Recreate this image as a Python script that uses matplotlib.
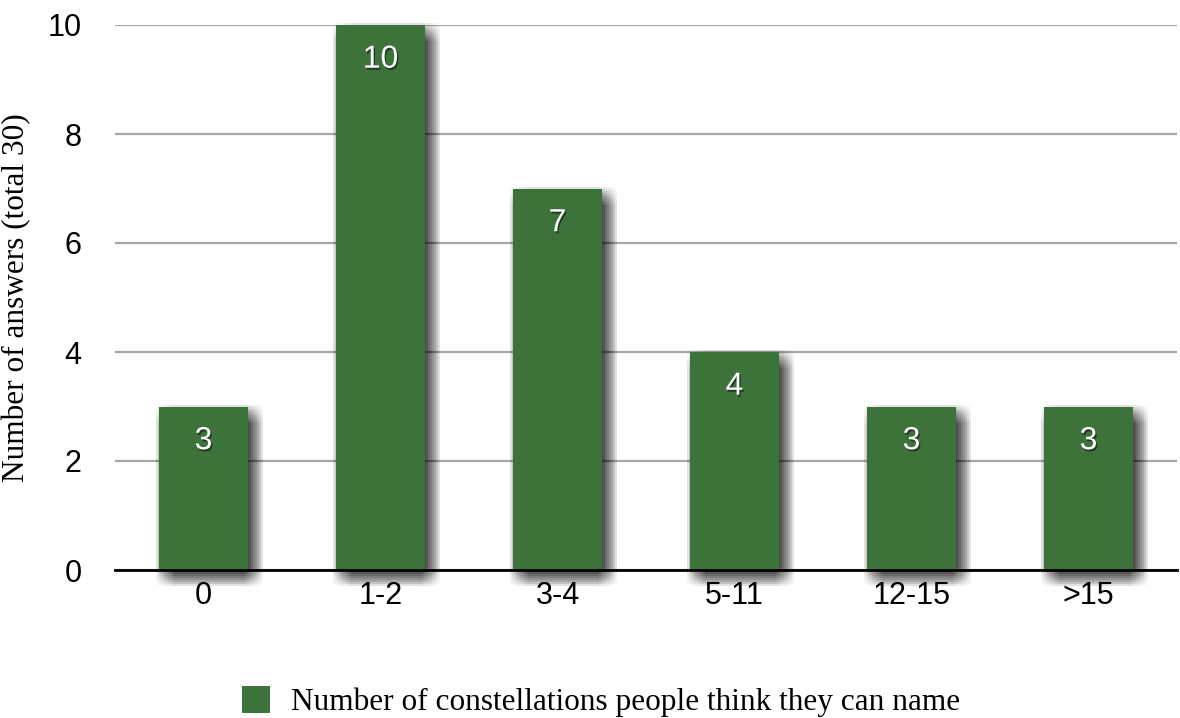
import matplotlib
matplotlib.use("Agg")
import matplotlib.pyplot as plt
import matplotlib.patheffects as pe
from matplotlib.patches import Patch

categories = ["0", "1-2", "3-4", "5-11", "12-15", ">15"]
values = [3, 10, 7, 4, 3, 3]
yticks = [0, 2, 4, 6, 8, 10]
series_name = "Number of constellations people think they can name"
ylabel = "Number of answers (total 30)"

bar_color = "#3d733a"
grid_color = "#a6a6a6"

W, H = 1180, 718
fig = plt.figure(figsize=(W / 100, H / 100), dpi=100)
ax = fig.add_axes([115 / W, (H - 570) / H, (1177 - 115) / W, (570 - 25) / H])

x = list(range(len(categories)))

# soft drop shadow made of many faint offset copies (approximate blur)
shadow = []
for dx in range(-3, 16, 2):
    for dy in range(-16, 3, 2):
        shadow.append(pe.SimplePatchShadow(offset=(dx * 0.72, dy * 0.72),
                                           shadow_rgbFace="black", alpha=0.011))
bars = ax.bar(x, values, width=0.5, color=bar_color, zorder=3, clip_on=False,
              path_effects=shadow + [pe.Normal()])

for xi, v in zip(x, values):
    ax.annotate(str(v), (xi, v), xytext=(0, -25), textcoords="offset points",
                ha="center", va="center", color="white", fontsize=23,
                family="Liberation Sans", zorder=6,
                path_effects=[pe.withSimplePatchShadow(offset=(1, -1.5),
                                                       shadow_rgbFace="black", alpha=0.45)])

ax.set_xlim(-0.5, len(categories) - 0.5)
ax.set_ylim(0, 10)
ax.set_yticks(yticks)
ax.set_xticks(x)
ax.set_xticklabels(categories)
ax.yaxis.grid(True, color=grid_color, linewidth=1.6, zorder=0)
ax.set_axisbelow(True)
for s in ["left", "right", "top"]:
    ax.spines[s].set_visible(False)
ax.spines["bottom"].set_linewidth(2)
ax.spines["bottom"].set_color("black")
ax.spines["bottom"].set_zorder(5)
ax.tick_params(axis="both", length=0, labelsize=22)
ax.tick_params(axis="y", pad=24)
ax.tick_params(axis="x", pad=8)
for lab in ax.get_xticklabels() + ax.get_yticklabels():
    lab.set_family("Liberation Sans")

ax.set_ylabel(ylabel, family="Liberation Serif", fontsize=22.5, labelpad=12)

handle = Patch(facecolor=bar_color, edgecolor="none")
fig.legend([handle], [series_name], loc="lower left",
           bbox_to_anchor=(242 / W, 1 / H), borderpad=0, borderaxespad=0,
           frameon=False, prop={"family": "Liberation Serif", "size": 22.5},
           handlelength=0.9, handleheight=0.93, handletextpad=0.67)

fig.savefig("out.png", dpi=100)
